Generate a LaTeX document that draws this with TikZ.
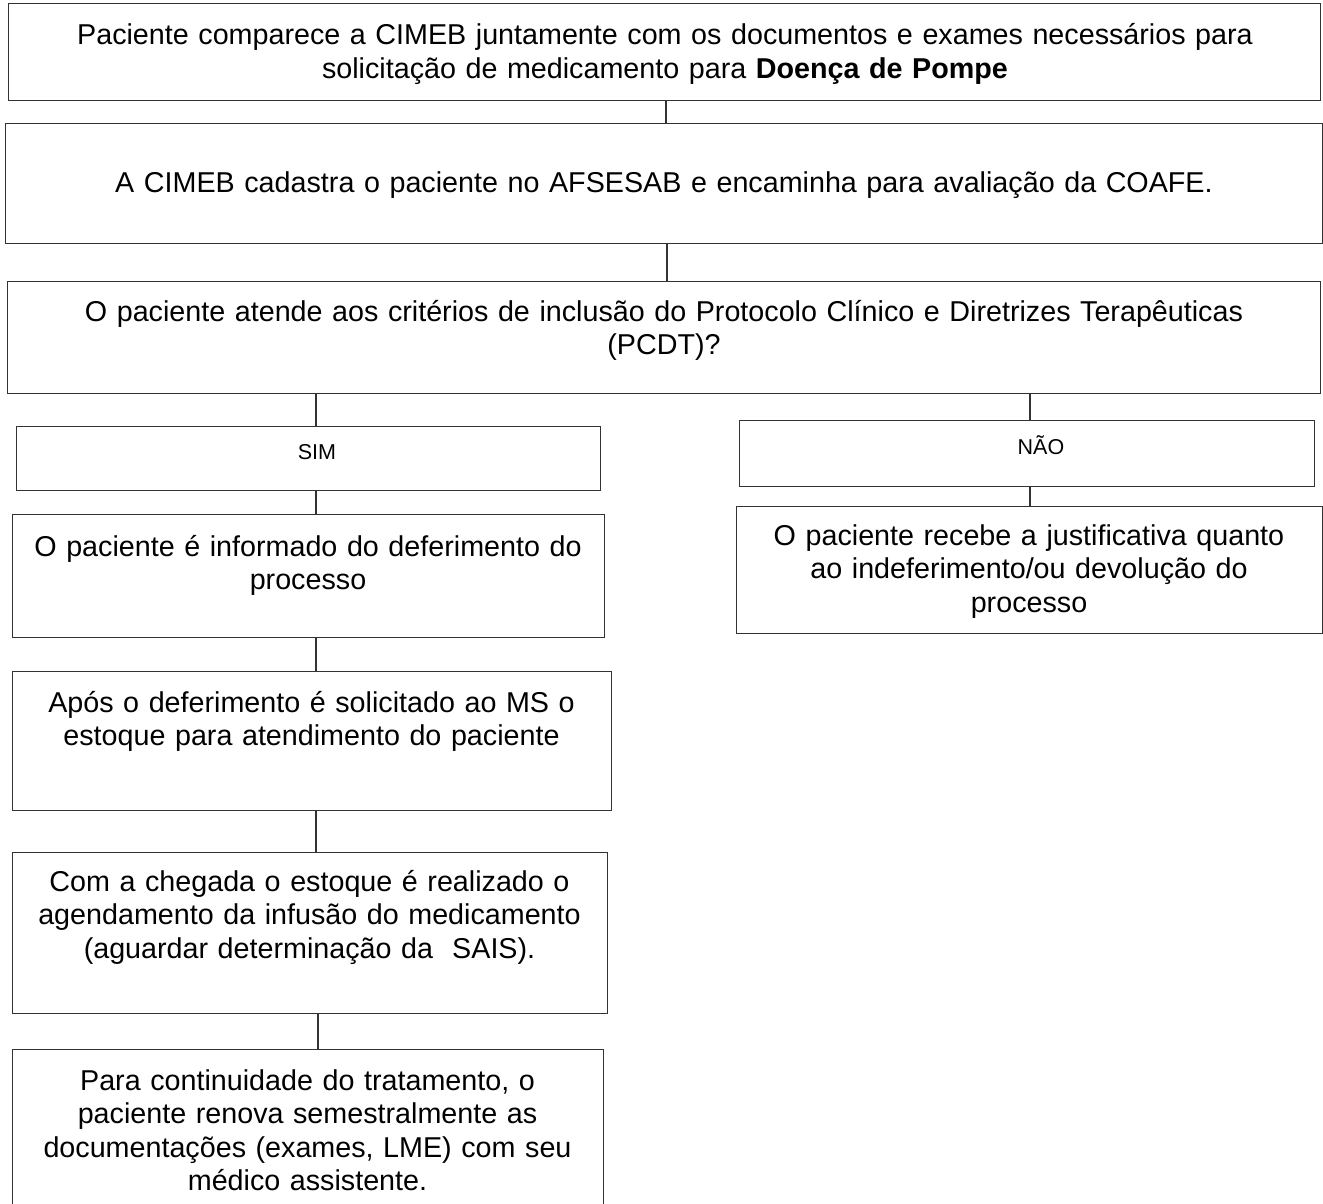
\documentclass[tikz,border=0pt]{standalone}
\usepackage{fontspec}
\setmainfont{Liberation Sans}
\begin{document}
\begin{tikzpicture}[x=1pt,y=-1pt]
\tikzset{
 box/.style={draw=black!80, line width=1.4pt, inner sep=0pt, anchor=north west},
 txt/.style={align=center, inner sep=0pt, anchor=base, font=\fontsize{28.7}{33.5}\selectfont},
 smalltxt/.style={align=center, inner sep=0pt, anchor=base, font=\fontsize{21.5}{25}\selectfont},
 conn/.style={draw=black!80, line width=1.4pt},
}
\useasboundingbox (0,0) rectangle (1323,1204);
% boxes
\node[box, minimum width=1312pt, minimum height=97pt] (b1) at (8,3) {};
\node[box, minimum width=1317pt, minimum height=120pt] (b2) at (5,123) {};
\node[box, minimum width=1313pt, minimum height=112pt] (b3) at (7,281) {};
\node[box, minimum width=584pt, minimum height=64pt] (sim) at (16,426) {};
\node[box, minimum width=575pt, minimum height=66pt] (nao) at (739,420) {};
\node[box, minimum width=592pt, minimum height=123pt] (def) at (12,514) {};
\node[box, minimum width=586pt, minimum height=127pt] (res) at (736,506) {};
\node[box, minimum width=599pt, minimum height=139pt] (apos) at (12,671) {};
\node[box, minimum width=595pt, minimum height=161pt] (com) at (12,852) {};
\node[box, minimum width=591pt, minimum height=175pt] (para) at (12,1049) {};
% texts
\node[txt, text width=1300pt] (t1) at (665,45) {Paciente comparece a CIMEB juntamente com os documentos e exames necessários para\\solicitação de medicamento para \textbf{Doença de Pompe}};
\node[txt, text width=1300pt] (t2) at (664,193) {A CIMEB cadastra o paciente no AFSESAB e encaminha para avaliação da COAFE.};
\node[txt, text width=1300pt] (t3) at (664,321) {O paciente atende aos critérios de inclusão do Protocolo Clínico e Diretrizes Terapêuticas\\(PCDT)?};
\node[smalltxt, text width=560pt] (tsim) at (317,459) {SIM};
\node[smalltxt, text width=560pt] (tnao) at (1041,454) {NÃO};
\node[txt, text width=585pt] (tdef) at (308,556) {O paciente é informado do deferimento do\\processo};
\node[txt, text width=580pt] (tres) at (1029,545) {O paciente recebe a justificativa quanto\\ao indeferimento/ou devolução do\\processo};
\node[txt, text width=590pt] (tapos) at (311.5,712) {Após o deferimento é solicitado ao MS o\\estoque para atendimento do paciente};
\node[txt, text width=590pt] (tcom) at (309.5,891) {Com a chegada o estoque é realizado o\\agendamento da infusão do medicamento\\(aguardar determinação da\ \ SAIS).};
\node[txt, text width=585pt] (tpara) at (307.5,1090) {Para continuidade do tratamento, o\\paciente renova semestralmente as\\documentações (exames, LME) com seu\\médico assistente.};
% connector helpers
\coordinate (xa) at (666,0);
\coordinate (xb) at (667,0);
\coordinate (xl) at (316,0);
\coordinate (xr) at (1030,0);
\coordinate (xp) at (318,0);
% connectors
\draw[conn] (b1.south -| xa) -- (b2.north -| xa);
\draw[conn] (b2.south -| xb) -- (b3.north -| xb);
\draw[conn] (b3.south -| xl) -- (sim.north -| xl);
\draw[conn] (b3.south -| xr) -- (nao.north -| xr);
\draw[conn] (sim.south -| xl) -- (def.north -| xl);
\draw[conn] (nao.south -| xr) -- (res.north -| xr);
\draw[conn] (def.south -| xl) -- (apos.north -| xl);
\draw[conn] (apos.south -| xl) -- (com.north -| xl);
\draw[conn] (com.south -| xp) -- (para.north -| xp);
\end{tikzpicture}
\end{document}
